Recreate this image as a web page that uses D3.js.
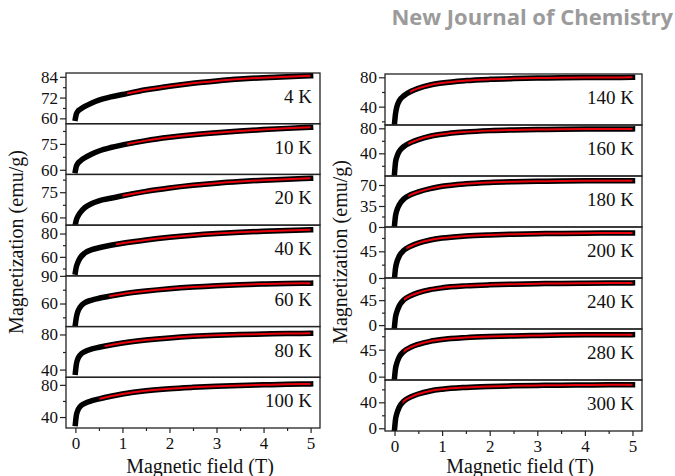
<!DOCTYPE html>
<html>
<head>
<meta charset="utf-8">
<script src="https://cdn.jsdelivr.net/npm/d3@7"></script>
<style>
  body { margin: 0; background: #fff; }
  svg text { font-family: "Liberation Serif", "Times New Roman", serif; fill: #111; }
  .journal { font-family: "Open Sans", sans-serif; font-weight: bold; fill: #9b9b9b; }
</style>
</head>
<body>
<div id="chart"></div>
<script>
// field grid shared by every M(H) curve (T)
var fields = [0, 0.02, 0.05, 0.1, 0.2, 0.35, 0.5, 0.75, 1, 1.5, 2, 2.5, 3, 3.5, 4, 4.5, 5];

// magnetization (emu/g), left column
var m4K   = [60, 62.5, 64, 65.2, 66.9, 68.9, 70.5, 72.4, 73.8, 76.5, 78.6, 80.3, 81.6, 82.7, 83.5, 84.1, 84.6];
var m10K  = [59.5, 62, 63.6, 65, 67, 69.2, 70.9, 72.9, 74.4, 76.9, 78.8, 80.3, 81.5, 82.5, 83.3, 84, 84.6];
var m20K  = [56, 58.5, 60.5, 62.8, 65.8, 68.3, 69.9, 71.4, 72.9, 75.5, 77.5, 79.1, 80.4, 81.4, 82.2, 82.8, 83.3];
var m40K  = [47, 51.5, 55, 59, 63.3, 66.2, 67.8, 70, 71.7, 74.5, 76.8, 78.6, 80, 81.1, 82, 82.7, 83.2];
var m60K  = [38, 45, 51, 56, 60.8, 63.8, 65.7, 68.2, 70.3, 73.5, 76, 77.9, 79.3, 80.3, 81.1, 81.7, 82.1];
var m80K  = [37, 46, 52, 56.5, 60.5, 63.5, 65.4, 68, 70.2, 73.6, 76.1, 77.9, 79.1, 79.9, 80.5, 81, 81.4];
var m100K = [32, 42, 48, 53, 57, 60.3, 62.5, 65.9, 68.6, 72.6, 75.2, 76.9, 78.2, 79.2, 80, 80.7, 81.2];

// magnetization (emu/g), right column
var m140K = [17, 30, 40, 48, 55, 61, 65, 69.5, 72.3, 75.5, 77.2, 78.2, 78.9, 79.3, 79.6, 79.8, 80];
var m160K = [8, 25, 34.6, 43, 51, 57.5, 62, 67.3, 70.6, 74.3, 76.3, 77.4, 78.1, 78.5, 78.8, 79, 79.1];
var m180K = [3, 18, 28, 37, 47, 54, 58.5, 64, 67.8, 72, 74.2, 75.4, 76.2, 76.6, 76.9, 77.1, 77.2];
var m200K = [0, 16, 27, 37, 47, 54, 58.8, 64, 67.3, 70.8, 72.7, 73.9, 74.7, 75.2, 75.6, 75.8, 76];
var m240K = [-2, 14, 24, 35, 46, 53.5, 58.5, 64, 67.3, 70.8, 72.7, 73.9, 74.7, 75.3, 75.7, 76, 76.2];
var m280K = [-2, 13, 23, 33, 42.5, 49.5, 54, 59, 62, 65.2, 67, 68.1, 68.8, 69.4, 69.8, 70, 70.2];
var m300K = [-2, 13, 23, 32.5, 42, 48.5, 52.8, 57.5, 60.2, 63, 64.5, 65.4, 66, 66.4, 66.7, 67, 67.2];

var leftTemps  = ["4 K", "10 K", "20 K", "40 K", "60 K", "80 K", "100 K"];
var rightTemps = ["140 K", "160 K", "180 K", "200 K", "240 K", "280 K", "300 K"];

// field where the red fit begins
var leftFit  = [1.1, 1.1, 1.0, 0.86, 0.72, 0.62, 0.51];
var rightFit = [0.33, 0.29, 0.29, 0.25, 0.2, 0.19, 0.17];

// y ranges, labelled ticks and minor ticks of each panel
var leftDomains  = [[56.9, 86.2], [57.3, 86.7], [55.4, 85.6], [43.7, 87.2], [35, 90], [31.2, 89], [26.4, 89.4]];
var rightDomains = [[15, 84.5], [3.7, 85.3], [0, 85], [0, 86], [-7, 85], [-5.6, 79.6], [-4.2, 74.4]];
var leftTicks  = [[60, 72, 84], [60, 75], [60, 75], [60, 80], [60, 90], [40, 80], [40, 80]];
var rightTicks = [[40, 80], [40, 80], [0, 35, 70], [0, 45], [0, 45], [0, 45], [0, 40]];
var leftMinor  = [[66, 78], [67.5, 82.5], [67.5, 82.5], [50, 70], [45, 75], [60], [60]];
var rightMinor = [[20, 60], [20, 60], [17.5, 52.5], [22.5, 67.5], [22.5, 67.5], [22.5, 67.5], [20, 60]];

var xTicks = [0, 1, 2, 3, 4, 5];
var xMinor = [0.5, 1.5, 2.5, 3.5, 4.5];

var svgWidth = 675;
var svgHeight = 476;

var svg = d3.select("#chart")
  .append("svg")
  .attr("width", svgWidth)
  .attr("height", svgHeight);

svg.append("text")
  .attr("class", "journal")
  .attr("x", 673)
  .attr("y", 25)
  .attr("text-anchor", "end")
  .attr("font-size", 22)
  .text("New Journal of Chemistry");

var clipCount = 0;

// draws one stacked column of seven panels
function drawColumn(col) {
  var x = d3.scaleLinear().domain([-0.2, 5.2]).range([col.left, col.right]);
  var band = d3.scaleLinear().domain([0, 7]).range([col.top, col.bottom]);

  col.curves.forEach(function(vals, i) {
    var pTop = band(i);
    var pBot = band(i + 1);
    var y = d3.scaleLinear().domain(col.domains[i]).range([pBot, pTop]);
    var pts = fields.map(function(f, j) { return [f, vals[j]]; });

    var line = d3.line()
      .x(function(d) { return x(d[0]); })
      .y(function(d) { return y(d[1]); })
      .curve(d3.curveMonotoneX);

    var id = "clip" + (clipCount++);
    svg.append("clipPath").attr("id", id)
      .append("rect")
      .attr("x", col.left).attr("y", pTop)
      .attr("width", col.right - col.left).attr("height", pBot - pTop);

    var fitId = "clip" + (clipCount++);
    svg.append("clipPath").attr("id", fitId)
      .append("rect")
      .attr("x", x(col.fits[i])).attr("y", pTop)
      .attr("width", col.right - x(col.fits[i])).attr("height", pBot - pTop);

    var g = svg.append("g").attr("clip-path", "url(#" + id + ")");

    // measured points, drawn as a heavy black trace
    g.append("path")
      .datum(pts)
      .attr("d", line)
      .attr("fill", "none")
      .attr("stroke", "#000")
      .attr("stroke-width", 5.5)
      .attr("stroke-linecap", "square");

    // fit line
    g.append("path")
      .datum(pts)
      .attr("d", line)
      .attr("clip-path", "url(#" + fitId + ")")
      .attr("fill", "none")
      .attr("stroke", "#e8000b")
      .attr("stroke-width", 2);

    // y axis, labelled ticks
    var yAxis = svg.append("g")
      .attr("transform", "translate(" + col.left + ",0)")
      .call(d3.axisLeft(y).tickValues(col.ticks[i]).tickFormat(d3.format("d")).tickSize(6).tickPadding(2));
    yAxis.selectAll("text")
      .attr("font-size", 17)
      .attr("font-family", "Liberation Serif, serif")
      .attr("fill", "#111");

    // minor ticks
    svg.append("g")
      .attr("transform", "translate(" + col.left + ",0)")
      .call(d3.axisLeft(y).tickValues(col.minor[i]).tickSize(3).tickFormat(""));

    svg.selectAll(".domain").remove();

    // panel frame
    svg.append("rect")
      .attr("x", col.left).attr("y", pTop)
      .attr("width", col.right - col.left).attr("height", pBot - pTop)
      .attr("fill", "none")
      .attr("stroke", "#222")
      .attr("stroke-width", 1.3);

    svg.append("text")
      .attr("x", col.right - 8)
      .attr("y", pTop + 30)
      .attr("text-anchor", "end")
      .attr("font-size", 19)
      .text(col.temps[i]);
  });

  // x axis under the last panel
  var xAxis = svg.append("g")
    .attr("transform", "translate(0," + col.bottom + ")")
    .call(d3.axisBottom(x).tickValues(xTicks).tickFormat(d3.format("d")).tickSize(5).tickPadding(4));
  xAxis.selectAll("text")
    .attr("font-size", 17)
    .attr("font-family", "Liberation Serif, serif")
    .attr("fill", "#111");

  svg.append("g")
    .attr("transform", "translate(0," + col.bottom + ")")
    .call(d3.axisBottom(x).tickValues(xMinor).tickSize(3).tickFormat(""));

  svg.selectAll(".domain").remove();
  svg.selectAll(".tick line").attr("stroke", "#222").attr("stroke-width", 1.2);

  svg.append("text")
    .attr("x", col.titleX)
    .attr("y", 473)
    .attr("text-anchor", "middle")
    .attr("font-size", 20)
    .text("Magnetic field (T)");

  svg.append("text")
    .attr("transform", "translate(" + col.yTitleX + "," + col.yTitleY + ") rotate(-90)")
    .attr("text-anchor", "middle")
    .attr("font-size", 20)
    .text("Magnetization (emu/g)");
}

drawColumn({
  left: 66, right: 320, top: 73, bottom: 428,
  curves: [m4K, m10K, m20K, m40K, m60K, m80K, m100K],
  temps: leftTemps, fits: leftFit,
  domains: leftDomains, ticks: leftTicks, minor: leftMinor,
  titleX: 200, yTitleX: 23, yTitleY: 242
});

drawColumn({
  left: 385, right: 642, top: 74, bottom: 431,
  curves: [m140K, m160K, m180K, m200K, m240K, m280K, m300K],
  temps: rightTemps, fits: rightFit,
  domains: rightDomains, ticks: rightTicks, minor: rightMinor,
  titleX: 520, yTitleX: 347, yTitleY: 252
});
</script>
</body>
</html>
